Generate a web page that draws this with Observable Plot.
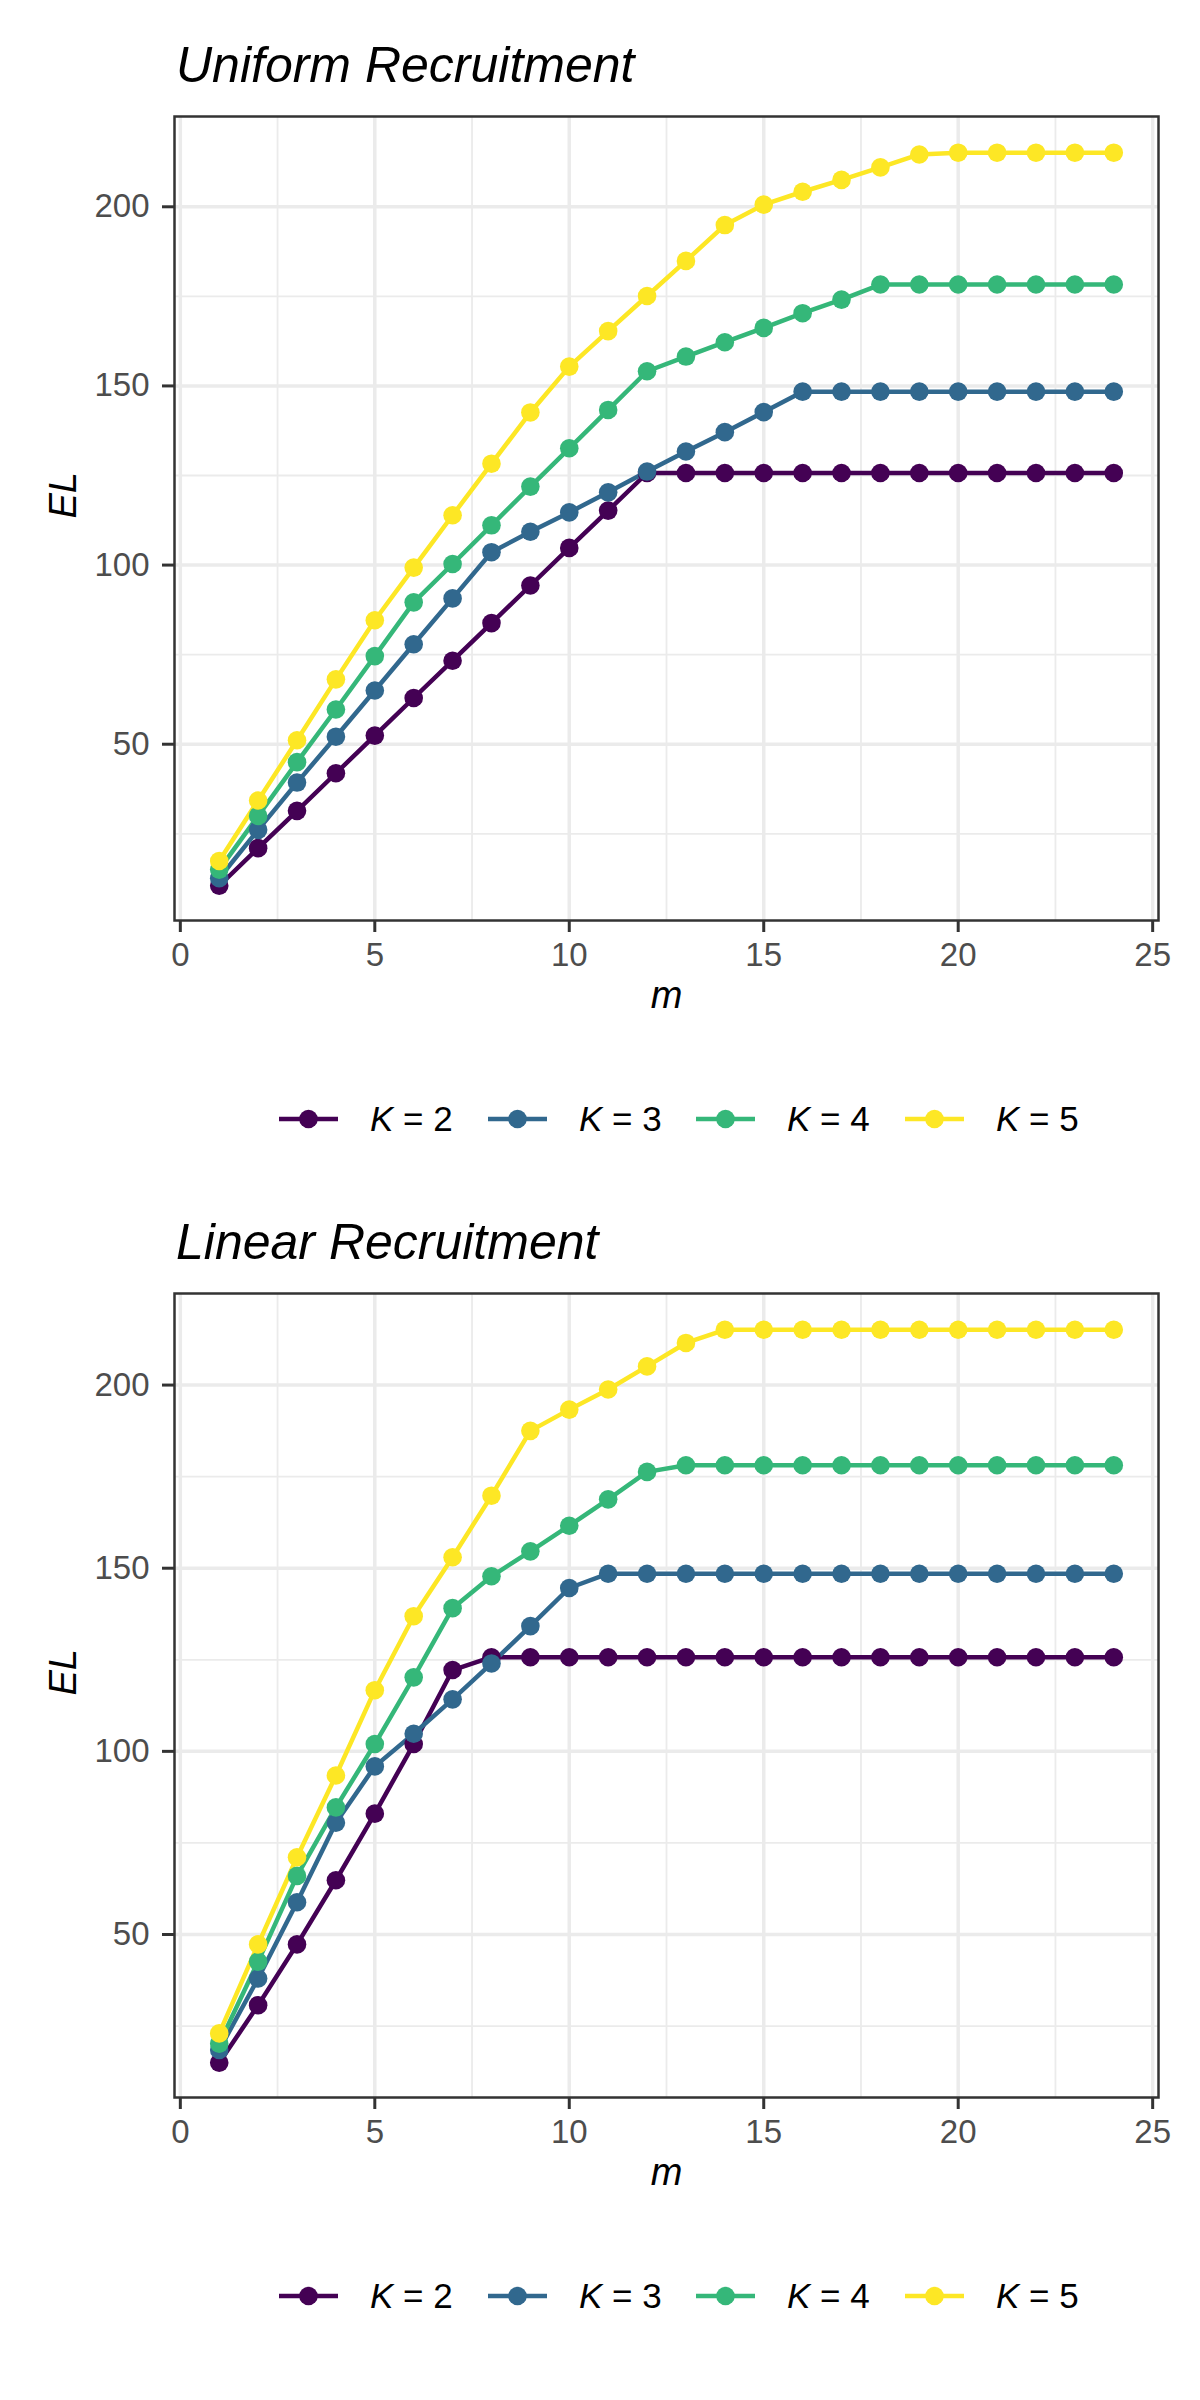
<!DOCTYPE html>
<html>
<head>
<meta charset="utf-8">
<script src="https://cdn.jsdelivr.net/npm/d3@7"></script>
<script src="https://cdn.jsdelivr.net/npm/@observablehq/plot@0.6"></script>
<style>
  body { margin: 0; background: #ffffff; font-family: "Liberation Sans", Arial, Helvetica, sans-serif; }
  .block { position: relative; width: 1200px; background: #ffffff; }
  .title { position: absolute; left: 176px; top: 40px; font-size: 50px; line-height: 50px; font-style: italic; color: #000; white-space: nowrap; }
  .plot { position: absolute; left: 0; top: 100px; }
  .legend-item { position: absolute; display: flex; align-items: center; height: 40px; white-space: nowrap; }
  .legend-item span { margin-left: 31px; font-size: 35px; color: #000; }
  .legend-item i { font-style: italic; }
</style>
</head>
<body>
<div id="root"></div>
<script>
// ---- data ----
const m = [1,2,3,4,5,6,7,8,9,10,11,12,13,14,15,16,17,18,19,20,21,22,23,24];
const kLabels = ["K = 2", "K = 3", "K = 4", "K = 5"];
const kColors = ["#440154", "#31688E", "#35B779", "#FDE725"];

// Uniform recruitment
const uniformK2 = [10.5, 21.0, 31.4, 41.9, 52.4, 62.9, 73.3, 83.8, 94.3, 104.8, 115.2, 125.7, 125.7, 125.7, 125.7, 125.7, 125.7, 125.7, 125.7, 125.7, 125.7, 125.7, 125.7, 125.7];
const uniformK3 = [12.6, 26.1, 39.3, 52.1, 65.0, 77.9, 90.7, 103.6, 109.3, 114.7, 120.3, 126.1, 131.7, 137.1, 142.7, 148.4, 148.4, 148.4, 148.4, 148.4, 148.4, 148.4, 148.4, 148.4];
const uniformK4 = [15.0, 30.0, 45.0, 59.7, 74.6, 89.6, 100.3, 111.1, 121.9, 132.6, 143.3, 154.1, 158.2, 162.2, 166.2, 170.3, 174.1, 178.3, 178.3, 178.3, 178.3, 178.3, 178.3, 178.3];
const uniformK5 = [17.4, 34.3, 51.1, 68.1, 84.6, 99.3, 113.9, 128.3, 142.6, 155.4, 165.3, 175.1, 184.9, 194.9, 200.6, 204.2, 207.5, 211.0, 214.6, 215.1, 215.1, 215.1, 215.1, 215.1];

// Linear recruitment
const linearK2 = [15.0, 30.7, 47.3, 64.8, 83.0, 102.0, 122.2, 125.7, 125.7, 125.7, 125.7, 125.7, 125.7, 125.7, 125.7, 125.7, 125.7, 125.7, 125.7, 125.7, 125.7, 125.7, 125.7, 125.7];
const linearK3 = [18.5, 38.0, 58.8, 80.5, 95.9, 104.8, 114.2, 124.0, 134.2, 144.6, 148.5, 148.5, 148.5, 148.5, 148.5, 148.5, 148.5, 148.5, 148.5, 148.5, 148.5, 148.5, 148.5, 148.5];
const linearK4 = [20.2, 42.6, 66.0, 84.7, 102.0, 120.2, 139.1, 147.8, 154.6, 161.6, 168.8, 176.3, 178.1, 178.1, 178.1, 178.1, 178.1, 178.1, 178.1, 178.1, 178.1, 178.1, 178.1, 178.1];
const linearK5 = [23.0, 47.3, 71.1, 93.4, 116.7, 136.9, 153.0, 169.8, 187.5, 193.3, 198.8, 205.1, 211.5, 215.1, 215.1, 215.1, 215.1, 215.1, 215.1, 215.1, 215.1, 215.1, 215.1, 215.1];

// tick values
const xMajor = [0, 5, 10, 15, 20, 25];
const xMinor = [2.5, 7.5, 12.5, 17.5, 22.5];
const yMajor = [50, 100, 150, 200];
const yMinor = [25, 75, 125, 175];

const panels = [
  { title: "Uniform Recruitment", series: [uniformK2, uniformK3, uniformK4, uniformK5], yDomain: [0.8, 225.2], height: 1177 },
  { title: "Linear Recruitment",  series: [linearK2, linearK3, linearK4, linearK5],     yDomain: [5.5, 225.0], height: 1223 }
];

function toRows(series) {
  const rows = [];
  series.forEach((vals, k) => {
    vals.forEach((v, i) => rows.push({ m: m[i], EL: v, K: kLabels[k] }));
  });
  return rows;
}

function makePlot(rows, yDomain) {
  const grid = { stroke: "#EBEBEB", strokeOpacity: 1 };
  return Plot.plot({
    width: 1200,
    height: 920,
    marginTop: 16,
    marginBottom: 100,
    marginLeft: 174,
    marginRight: 42,
    style: { background: "white", fontFamily: "'Liberation Sans', Arial, Helvetica, sans-serif", overflow: "visible" },
    x: { domain: [-0.15, 25.15] },
    y: { domain: yDomain },
    color: { domain: kLabels, range: kColors },
    marks: [
      Plot.gridX(xMinor, { ...grid, strokeWidth: 1.8 }),
      Plot.gridY(yMinor, { ...grid, strokeWidth: 1.8 }),
      Plot.gridX(xMajor, { ...grid, strokeWidth: 3.5 }),
      Plot.gridY(yMajor, { ...grid, strokeWidth: 3.5 }),
      Plot.line(rows, { x: "m", y: "EL", z: "K", stroke: "K", strokeWidth: 4.5 }),
      Plot.dot(rows, { x: "m", y: "EL", fill: "K", r: 9.3 }),
      Plot.frame({ stroke: "#333333", strokeWidth: 2.5 }),
      Plot.axisX(xMajor, { tickSize: 12, tickPadding: 10, fontSize: 33, stroke: "#333333", strokeWidth: 3, fill: "#4D4D4D", label: null }),
      Plot.axisY(yMajor, { tickSize: 12, tickPadding: 13, fontSize: 33, stroke: "#333333", strokeWidth: 3, fill: "#4D4D4D", label: null }),
      Plot.text(["m"], { frameAnchor: "bottom", dy: 87, lineAnchor: "bottom", fontSize: 38, fontStyle: "italic", fill: "#000" }),
      Plot.text(["EL"], { frameAnchor: "left", dx: -99, rotate: -90, lineAnchor: "bottom", fontSize: 38, fontStyle: "italic", fill: "#000" })
    ]
  });
}

const root = document.getElementById("root");
const legendLefts = [279, 488, 696, 905];

panels.forEach(p => {
  const block = document.createElement("div");
  block.className = "block";
  block.style.height = p.height + "px";

  const t = document.createElement("div");
  t.className = "title";
  t.textContent = p.title;
  block.appendChild(t);

  const holder = document.createElement("div");
  holder.className = "plot";
  holder.appendChild(makePlot(toRows(p.series), p.yDomain));
  block.appendChild(holder);

  kLabels.forEach((lab, i) => {
    const item = document.createElement("div");
    item.className = "legend-item";
    item.style.left = legendLefts[i] + "px";
    item.style.top = (1119 - 20) + "px";
    const svgNS = "http://www.w3.org/2000/svg";
    const svg = document.createElementNS(svgNS, "svg");
    svg.setAttribute("width", "60");
    svg.setAttribute("height", "40");
    const ln = document.createElementNS(svgNS, "line");
    ln.setAttribute("x1", "0"); ln.setAttribute("x2", "59");
    ln.setAttribute("y1", "20"); ln.setAttribute("y2", "20");
    ln.setAttribute("stroke", kColors[i]); ln.setAttribute("stroke-width", "4.5");
    const c = document.createElementNS(svgNS, "circle");
    c.setAttribute("cx", "29.5"); c.setAttribute("cy", "20"); c.setAttribute("r", "9.3");
    c.setAttribute("fill", kColors[i]);
    svg.appendChild(ln); svg.appendChild(c);
    item.appendChild(svg);
    const span = document.createElement("span");
    const parts = lab.split(" = ");
    span.innerHTML = "<i>" + parts[0] + "</i> = " + parts[1];
    item.appendChild(span);
    block.appendChild(item);
  });

  root.appendChild(block);
});
</script>
</body>
</html>
